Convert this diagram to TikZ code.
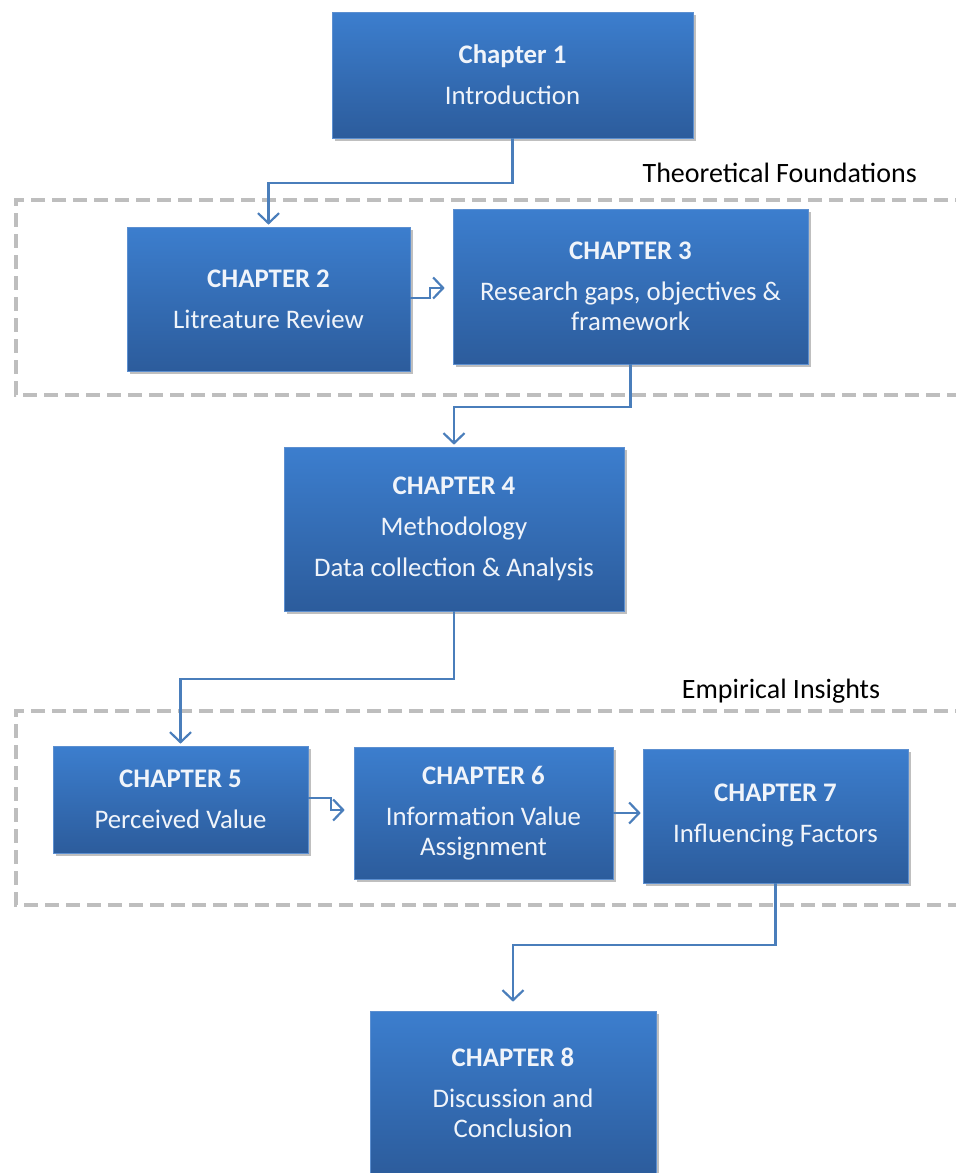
\documentclass[tikz,border=0pt]{standalone}
\usepackage{fontspec}
\setmainfont{Carlito}
\usetikzlibrary{arrows.meta,shadows}

\definecolor{boxtop}{RGB}{60,126,206}
\definecolor{boxbottom}{RGB}{44,92,156}
\definecolor{boxedge}{RGB}{92,143,208}
\definecolor{boxtext}{RGB}{240,244,250}
\definecolor{linkblue}{RGB}{74,126,187}
\definecolor{groupgray}{RGB}{190,190,190}

\tikzset{
  chapter/.style={rectangle, draw=boxedge, line width=0.6pt,
    top color=boxtop, bottom color=boxbottom,
    drop shadow={shadow xshift=2.5pt, shadow yshift=-3pt, opacity=0.25, fill=black},
    text=boxtext, align=center, inner sep=0pt,
    font=\fontsize{26.8}{30}\selectfont},
  conn/.style={draw=linkblue, line width=2.2pt,
    -{Straight Barb[length=10pt,width=21pt,line width=2.2pt]}},
  group/.style={draw=groupgray, line width=4pt, dash pattern=on 14pt off 7pt},
  grouplabel/.style={font=\fontsize{28}{30}\selectfont, text=black, inner sep=0pt}
}

\begin{document}
\begin{tikzpicture}[x=1pt,y=-1pt]
  \useasboundingbox (0,0) rectangle (956,1173);
  \clip (0,0) rectangle (956,1173);

  % dashed group frames, running off the right edge
  \draw[group] (990,200) -- (16,200) -- (16,395) -- (990,395);
  \draw[group] (990,711) -- (16,711) -- (16,905) -- (990,905);
  \node[grouplabel, anchor=east] (lblT) at (917,173) {Theoretical Foundations};
  \node[grouplabel] (lblE) at (781,691) {Empirical Insights};

  % chapter boxes
  \node[chapter, minimum width=361pt, minimum height=126pt] (c1) at (512.5,75)
    {\textbf{Chapter 1}\\[11pt]Introduction};
  \node[chapter, minimum width=283pt, minimum height=144pt] (c2) at (268.5,299)
    {\textbf{CHAPTER 2}\\[11pt]Litreature Review};
  \node[chapter, minimum width=355pt, minimum height=155pt] (c3) at (630.5,286.5)
    {\textbf{CHAPTER 3}\\[11pt]Research gaps, objectives \&\\framework};
  \node[chapter, minimum width=340pt, minimum height=164pt] (c4) at (454,529)
    {\textbf{CHAPTER 4}\\[11pt]Methodology\\[11pt]Data collection \& Analysis};
  \node[chapter, minimum width=255pt, minimum height=107pt] (c5) at (180.5,799.5)
    {\textbf{CHAPTER 5}\\[11pt]Perceived Value};
  \node[chapter, minimum width=259pt, minimum height=132pt] (c6) at (483.5,813)
    {\textbf{CHAPTER 6}\\[11pt]Information Value\\Assignment};
  \node[chapter, minimum width=265pt, minimum height=134pt] (c7) at (775.5,816)
    {\textbf{CHAPTER 7}\\[11pt]Influencing Factors};
  \node[chapter, minimum width=286pt, minimum height=164pt] (c8) at (513,1093)
    {\textbf{CHAPTER 8}\\[11pt]Discussion and\\Conclusion};

  % connectors
  \draw[conn, shorten >=2pt] (c1.south) -- ++(0,45) -| (c2.north);
  \draw[conn, shorten >=8pt] (c2.east) ++(0,-1) -- ++(20,0) |- ([yshift=-1.5pt]c3.west);
  \draw[conn, shorten >=2pt] (c3.south) -- ++(0,43) -| (c4.north);
  \draw[conn, shorten >=2pt] (c4.south) -- ++(0,68) -| (c5.north);
  \draw[conn, shorten >=9pt] (c5.east) ++(0,-1.5) -- ++(23,0) |- ([yshift=3pt]c6.west);
  \draw[conn, shorten >=2pt] (c6.east) -- (c6.east -| c7.west);
  \draw[conn, shorten >=9pt] (c7.south) -- ++(0,62) -| (c8.north);
\end{tikzpicture}
\end{document}
